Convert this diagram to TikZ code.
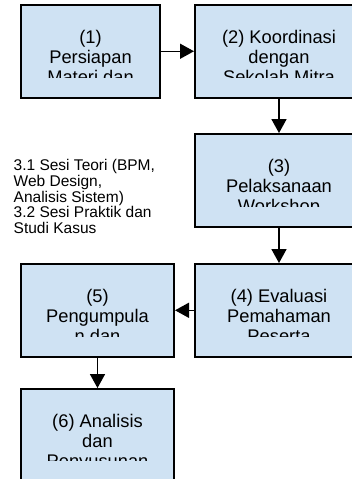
\documentclass[tikz,border=0pt]{standalone}
\usepackage{fontspec}
\setmainfont{Liberation Sans}
\usetikzlibrary{arrows.meta}
\definecolor{stageblue}{HTML}{CFE2F3}

\begin{document}
\begin{tikzpicture}[x=1pt,y=-1pt]
	\tikzstyle{stage} = [rectangle,fill=stageblue,draw=black,line width=2pt,inner sep=0pt]
	\tikzstyle{stagetext} = [align=center,inner sep=0pt,anchor=base,font=\fontsize{18.3}{20}\selectfont]
	\tikzstyle{edge} = [-{Triangle[length=14pt,width=15pt]},line width=1.5pt]
	\useasboundingbox (0,0) rectangle (352,479);

	\node[stage,minimum width=139pt,minimum height=92.5pt] (n1) at (90.5,51.25) {};
	\node[stage,minimum width=168pt,minimum height=92.5pt] (n2) at (279,51.25) {};
	\node[stage,minimum width=168pt,minimum height=92.5pt] (n3) at (279,180.3) {};
	\node[stage,minimum width=168pt,minimum height=92.5pt] (n4) at (279,310.3) {};
	\node[stage,minimum width=153pt,minimum height=92.5pt] (n5) at (97.5,310.3) {};
	\node[stage,minimum width=153pt,minimum height=92.5pt] (n6) at (97.5,435.3) {};

	% labels are cut off below the second line (base = last line)
	\begin{scope}
		\clip ([xshift=1pt,yshift=-1pt]n1.north west) rectangle ([yshift=-73pt]n1.north east);
		\node[stagetext] (t1) at ([yshift=-79.5pt]n1.north) {(1)\\Persiapan\\Materi dan};
	\end{scope}
	\begin{scope}
		\clip ([xshift=1pt,yshift=-1pt]n2.north west) rectangle ([yshift=-73pt]n2.north east);
		\node[stagetext] (t2) at ([yshift=-79.5pt]n2.north) {(2) Koordinasi\\dengan\\Sekolah Mitra};
	\end{scope}
	\begin{scope}
		\clip ([xshift=1pt,yshift=-1pt]n3.north west) rectangle ([yshift=-73pt]n3.north east);
		\node[stagetext] (t3) at ([yshift=-79.5pt]n3.north) {(3)\\Pelaksanaan\\Workshop};
	\end{scope}
	\begin{scope}
		\clip ([xshift=1pt,yshift=-1pt]n4.north west) rectangle ([yshift=-73pt]n4.north east);
		\node[stagetext] (t4) at ([yshift=-79.5pt]n4.north) {(4) Evaluasi\\Pemahaman\\Peserta};
	\end{scope}
	\begin{scope}
		\clip ([xshift=1pt,yshift=-1pt]n5.north west) rectangle ([yshift=-73pt]n5.north east);
		\node[stagetext] (t5) at ([yshift=-79.5pt]n5.north) {(5)\\Pengumpula\\n dan};
	\end{scope}
	\begin{scope}
		\clip ([xshift=1pt,yshift=-1pt]n6.north west) rectangle ([yshift=-72pt]n6.north east);
		\node[stagetext] (t6) at ([yshift=-79.5pt]n6.north) {(6) Analisis\\dan\\Penyusunan};
	\end{scope}

	\draw[edge] (n1)--(n2);
	\draw[edge] (n2)--(n3);
	\draw[edge] (n3)--(n4);
	\draw[edge] (n4)--(n5);
	\draw[edge] (n5)--(n6);

	\node[anchor=base west,align=left,inner sep=0pt,font=\fontsize{15.5}{15.7}\selectfont] (notes) at (13.5,233.5) {3.1 Sesi Teori (BPM,\\Web Design,\\Analisis Sistem)\\3.2 Sesi Praktik dan\\Studi Kasus};
\end{tikzpicture}
\end{document}
